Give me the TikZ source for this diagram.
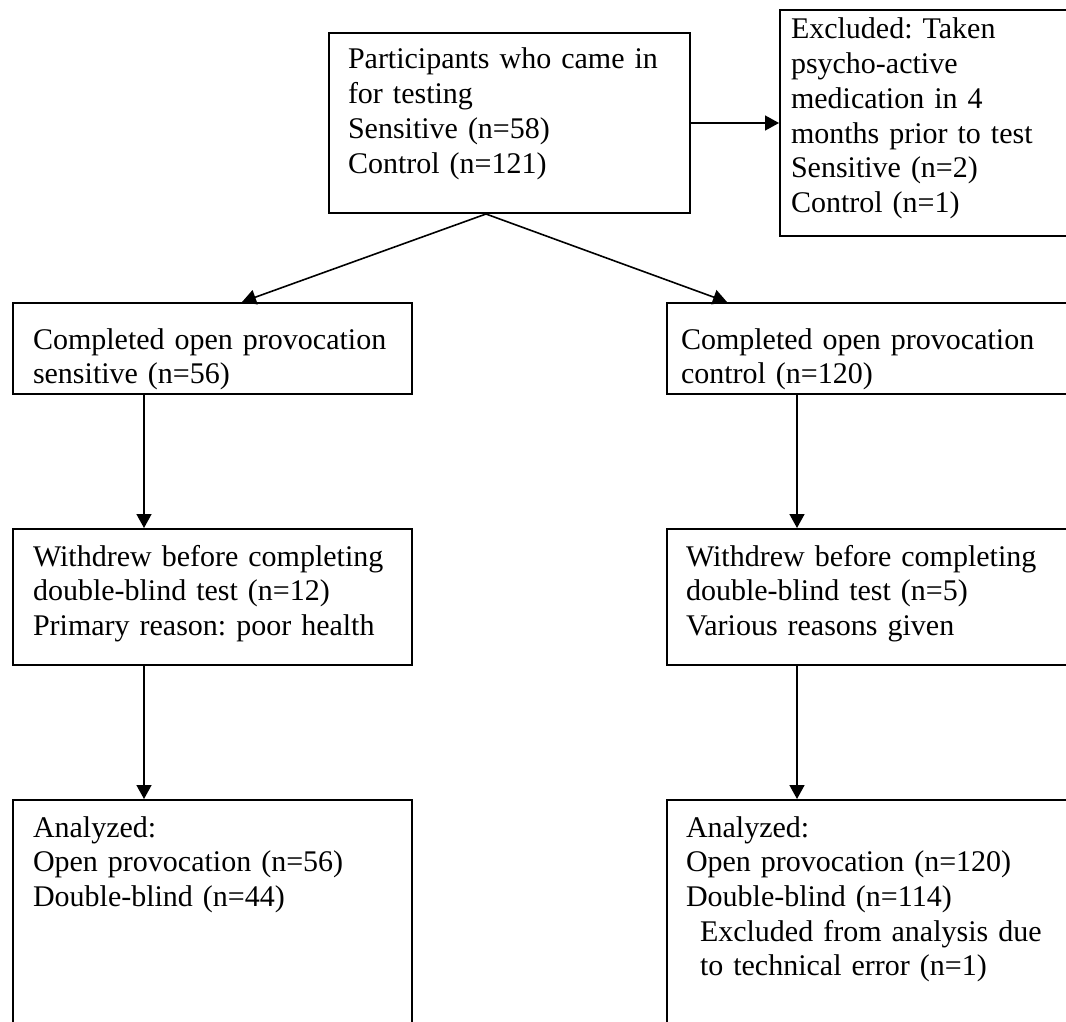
\documentclass[tikz,border=0pt]{standalone}
\usepackage{fontspec}
\setmainfont{Liberation Serif}
\usetikzlibrary{arrows.meta}
\frenchspacing

\tikzset{
	box/.style={draw, line width=1pt, anchor=north west, inner ysep=0pt, align=left, font=\fontsize{15pt}{17.35pt}\selectfont},
	arr/.style={line width=0.8pt, -{Triangle[length=7pt, width=7.5pt]}}
}

\begin{document}
\begin{tikzpicture}[x=0.5pt, y=-0.5pt]
	\useasboundingbox (0,0) rectangle (1066,1022);
	\node[box, inner xsep=9.5pt, text width=161.5pt, text height=18pt, text depth=72pt] (came) at (328,32) {Participants who came in\\for testing\\Sensitive (n=58)\\Control (n=121)};
	\node[box, inner xsep=5.5pt, text width=139pt, text height=14.5pt, text depth=98.5pt] (excl) at (779,9) {Excluded: Taken\\psycho-active\\medication in 4\\months prior to test\\Sensitive (n=2)\\Control (n=1)};
	\node[box, inner xsep=10pt, text width=179.5pt, text height=23pt, text depth=22.5pt] (openS) at (12,302) {Completed open provocation\\sensitive (n=56)};
	\node[box, inner xsep=7pt, text width=191pt, text height=23pt, text depth=22.5pt] (openC) at (666,302) {Completed open provocation\\control (n=120)};
	\node[box, inner xsep=10pt, text width=179.5pt, text height=18.5pt, text depth=49.5pt] (wdS) at (12,528) {Withdrew before completing\\double-blind test (n=12)\\Primary reason: poor health};
	\node[box, inner xsep=9.5pt, text width=186pt, text height=18.5pt, text depth=49.5pt] (wdC) at (666,528) {Withdrew before completing\\double-blind test (n=5)\\Various reasons given};
	\node[box, inner xsep=10pt, text width=179.5pt, text height=18.5pt, text depth=102pt] (anS) at (12,799) {Analyzed:\\Open provocation (n=56)\\Double-blind (n=44)};
	\node[box, inner xsep=9.5pt, text width=186pt, text height=18.5pt, text depth=102pt] (anC) at (666,799) {Analyzed:\\Open provocation (n=120)\\Double-blind (n=114)\\\hspace*{7pt}Excluded from analysis due\\\hspace*{7pt}to technical error (n=1)};
	\coordinate (split) at ([shift={(-23.5,0)}]came.south);
	\draw[arr] (came.east) -- (excl.west);
	\draw[arr] (split) -- ([shift={(230,0)}]openS.north west);
	\draw[arr] (split) -- ([shift={(61,0)}]openC.north west);
	\draw[arr] ([shift={(132,0)}]openS.south west) -- ([shift={(132,0)}]wdS.north west);
	\draw[arr] ([shift={(131,0)}]openC.south west) -- ([shift={(131,0)}]wdC.north west);
	\draw[arr] ([shift={(132,0)}]wdS.south west) -- ([shift={(132,0)}]anS.north west);
	\draw[arr] ([shift={(131,0)}]wdC.south west) -- ([shift={(131,0)}]anC.north west);
\end{tikzpicture}
\end{document}
